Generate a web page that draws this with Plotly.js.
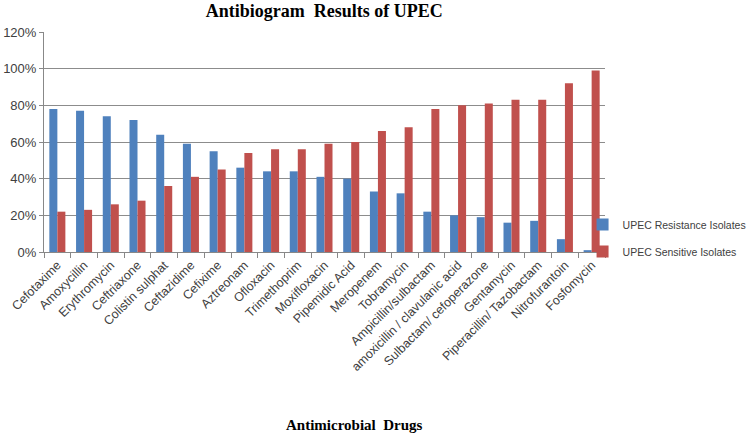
<!DOCTYPE html>
<html><head><meta charset="utf-8">
<script src="https://cdn.plot.ly/plotly-3.0.1.min.js"></script>
<style>html,body{margin:0;padding:0;background:#fff}#c{width:749px;height:439px}</style>
</head><body><div id="c"></div>
<script>
const drugs = ["Cefotaxime","Amoxycillin","Erythromycin","Ceftriaxone","Colistin sulphat","Ceftazidime","Cefixime","Aztreonam","Ofloxacin","Trimethoprim","Moxifloxacin","Pipemidic Acid","Meropenem","Tobramycin","Ampicillin/sulbactam","amoxicillin / clavulanic acid","Sulbactam/ cefoperazone","Gentamycin","Piperacillin/ Tazobactam","Nitrofurantoin","Fosfomycin"];
const resistance = [78,77,74,72,64,59,55,46,44,44,41,40,33,32,22,20,19,16,17,7,1];
const sensitive = [22,23,26,28,36,41,45,54,56,56,59,60,66,68,78,80,81,83,83,92,99];
const yTicks = [0,20,40,60,80,100,120];
const yTickText = yTicks.map(v => v + "%");

const font = "Liberation Sans, Arial, sans-serif";
const serif = "Liberation Serif, Times New Roman, serif";
const traces = [
  {type:"bar", name:"UPEC Resistance Isolates", x:drugs, y:resistance, marker:{color:"#4F81BD"}, legendgroup:"a"},
  {type:"bar", name:"UPEC Sensitive Isolates", x:drugs, y:sensitive, marker:{color:"#C0504D"}, legendgroup:"b"}
];
const layout = {
  width:749, height:439,
  margin:{l:44, r:144, t:32, b:187, autoexpand:false},
  paper_bgcolor:"#fff", plot_bgcolor:"#fff",
  barmode:"group", bargap:0.4, bargroupgap:0,
  title:{text:"<b>Antibiogram  Results of UPEC</b>", font:{family:serif, size:18, color:"#000"}, x:0.433, xanchor:"center", y:0.975, yanchor:"middle"},
  xaxis:{type:"category", tickangle:-45, ticks:"outside", tickson:"boundaries", ticklen:5, tickcolor:"#888",
    showline:true, linecolor:"#888", showgrid:false,
    tickfont:{family:font, size:12.5, color:"#404040"}},
  yaxis:{range:[0,120], tickvals:yTicks, ticktext:yTickText, ticks:"outside", ticklen:4, tickcolor:"#888",
    showgrid:true, gridcolor:"#8c8c8c", gridwidth:1, showline:true, linecolor:"#888", zeroline:false,
    tickfont:{family:font, size:13, color:"#404040"}},
  legend:{x:0.96, xanchor:"left", y:0.191, yanchor:"top", traceorder:"grouped", tracegroupgap:8,
    font:{family:font, size:10.5, color:"#404040"}, bgcolor:"rgba(0,0,0,0)"},
  annotations:[{text:"<b>Antimicrobial  Drugs</b>", xref:"paper", yref:"paper", x:0.5526, y:-0.786,
    xanchor:"center", yanchor:"middle", showarrow:false, font:{family:serif, size:15, color:"#000"}}],
  showlegend:true
};
Plotly.newPlot("c", traces, layout, {displayModeBar:false, staticPlot:true});
</script></body></html>
